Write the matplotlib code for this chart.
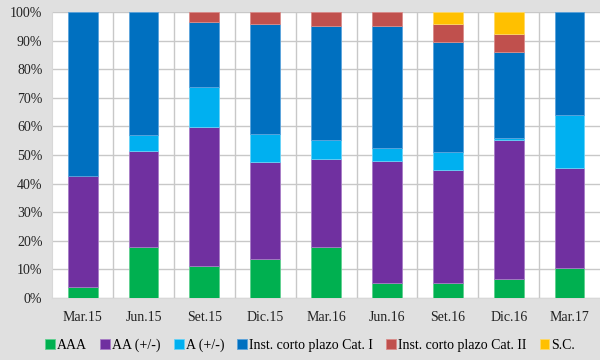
import matplotlib
matplotlib.use("Agg")
import matplotlib.pyplot as plt
import numpy as np

categories = ["Mar.15", "Jun.15", "Set.15", "Dic.15", "Mar.16",
              "Jun.16", "Set.16", "Dic.16", "Mar.17"]
series_names = ["AAA", "AA (+/-)", "A (+/-)", "Inst. corto plazo Cat. I",
                "Inst. corto plazo Cat. II", "S.C."]
aaa = [3.7, 17.7, 11.3, 13.7, 17.7, 5.1, 5.1, 6.6, 10.6]
aa = [39.1, 33.7, 48.4, 33.8, 30.8, 42.8, 39.6, 48.8, 34.8]
a = [0.0, 5.5, 14.0, 9.8, 6.6, 4.5, 6.3, 0.6, 18.4]
cat1 = [57.2, 43.1, 22.9, 38.4, 40.1, 42.5, 38.6, 29.9, 36.2]
cat2 = [0.0, 0.0, 3.4, 4.3, 4.8, 5.1, 6.3, 6.5, 0.0]
sc = [0.0, 0.0, 0.0, 0.0, 0.0, 0.0, 4.1, 7.6, 0.0]

colors = ["#00B050", "#7030A0", "#00B0F0", "#0070C0", "#C0504D", "#FFC000"]
edges = ["#5FD08F", "#A77CC6", "#66D2F7", "#5AA3DC", "#DA8C8A", "#FFD966"]

plt.rcParams["font.family"] = ["Liberation Serif", "DejaVu Serif"]
bg = "#E0E0E0"

fig = plt.figure(figsize=(6, 3.6), dpi=100, facecolor=bg)
ax = fig.add_axes([0.087, 0.172, 0.913, 0.795])
ax.set_facecolor("white")

x = np.arange(len(categories))
bottom = np.zeros(len(categories))
for name, vals, c, ec in zip(series_names, [aaa, aa, a, cat1, cat2, sc], colors, edges):
    vals = np.array(vals)
    keep = vals > 0
    # skip empty segments so they leave no edge line
    ax.bar(x[keep], vals[keep], 0.49, bottom=bottom[keep], color=c, edgecolor=ec,
           linewidth=0.6, label=name, zorder=3)
    bottom += vals

ax.set_xlim(-0.5, len(categories) - 0.5)
ax.set_ylim(0, 100)
ax.set_yticks(np.arange(0, 101, 10))
ax.set_yticklabels([f"{v}%" for v in range(0, 101, 10)], fontsize=10, color="#222222")
ax.set_xticks(x)
ax.set_xticklabels(categories, fontsize=10, color="#222222")
ax.set_xticks(np.arange(0.5, len(categories) - 0.5, 1), minor=True)
ax.tick_params(axis="both", which="both", length=0)
ax.tick_params(axis="x", pad=9)
ax.tick_params(axis="y", pad=7)
ax.grid(axis="y", color="#C8C8C8", lw=1.0, zorder=0)
ax.grid(axis="x", which="minor", color="#C8C8C8", lw=1.0, zorder=0)
for s in ["top", "right"]:
    ax.spines[s].set_visible(False)
for s in ["left", "bottom"]:
    ax.spines[s].set_color("#D8D8D8")

fig.legend(loc="lower center", bbox_to_anchor=(0.517, -0.012), ncol=6, frameon=False,
           fontsize=10, handlelength=0.7, handleheight=0.7, handletextpad=0.15,
           columnspacing=0.95)

fig.savefig("out.png", dpi=100, facecolor=bg)
